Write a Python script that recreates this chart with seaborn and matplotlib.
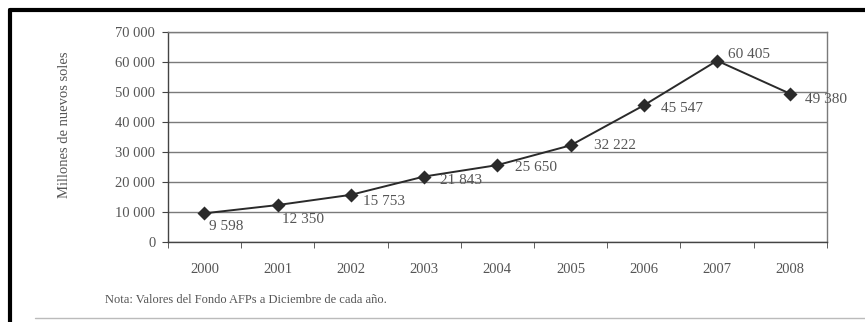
import matplotlib.pyplot as plt
import seaborn as sns
import numpy as np
from matplotlib.lines import Line2D

years = ['2000', '2001', '2002', '2003', '2004', '2005', '2006', '2007', '2008']
fondo = [9598, 12350, 15753, 21843, 25650, 32222, 45547, 60405, 49380]
etiquetas = ['9 598', '12 350', '15 753', '21 843', '25 650', '32 222', '45 547', '60 405', '49 380']
# desplazamiento de cada etiqueta (pixeles)
offsets = [(5, -13), (4, -14), (12, -7), (16, -4), (18, -2), (23, 0), (17, -3), (11, 6), (15, -6)]
yticks = [0, 10000, 20000, 30000, 40000, 50000, 60000, 70000]

sns.set_style('white')
plt.rcParams['font.family'] = ['Liberation Serif', 'DejaVu Serif']
gris = '#555555'

fig = plt.figure(figsize=(8.65, 3.22), dpi=100)
ax = fig.add_axes([0.194, 0.248, 0.762, 0.653])

sns.pointplot(x=years, y=fondo, ax=ax, color='#2a2a2a', markers='D',
              linewidth=1.4, markersize=6.5, errorbar=None)

ax.set_ylim(0, 70000)
ax.set_xlim(-0.5, 8.5)
ax.set_yticks(yticks)
ax.set_yticklabels([f'{v:,}'.replace(',', ' ') for v in yticks])
ax.yaxis.grid(True, color='#7a7a7a', linewidth=1.0)
ax.set_axisbelow(True)
for s in ax.spines.values():
    s.set_color('#7a7a7a')
    s.set_linewidth(1.0)
ax.spines['left'].set_color('#444444')
ax.spines['bottom'].set_color('#444444')

ax.set_xticks(np.arange(-0.5, 9, 1), minor=True)
ax.tick_params(axis='x', which='major', length=0, pad=15, labelsize=10.5, labelcolor=gris)
ax.tick_params(axis='x', which='minor', length=4, color='#444444', direction='out', bottom=True)
ax.tick_params(axis='y', length=4, color='#444444', direction='out', left=True,
               labelsize=10.5, labelcolor=gris, pad=5)

ax.set_xlabel('')
ax.set_ylabel('Millones de nuevos soles', fontsize=10.5, color=gris)
ax.yaxis.set_label_coords(-0.147, 0.56)

for i, (v, t, off) in enumerate(zip(fondo, etiquetas, offsets)):
    ax.annotate(t, (i, v), xytext=off, textcoords='offset pixels',
                fontsize=11, color=gris, ha='left', va='center')

fig.text(0.121, 0.068, 'Nota: Valores del Fondo AFPs a Diciembre de cada año.',
         fontsize=9, color=gris, ha='left', va='center')

# marco del escaneo
fig.add_artist(Line2D([0.012, 1.0], [0.968, 0.968], color='black', linewidth=3, transform=fig.transFigure))
fig.add_artist(Line2D([0.012, 0.012], [0.0, 0.968], color='black', linewidth=3, transform=fig.transFigure))
fig.add_artist(Line2D([0.04, 1.0], [0.012, 0.012], color='#bbbbbb', linewidth=1, transform=fig.transFigure))

fig.savefig('out.png', dpi=100)
